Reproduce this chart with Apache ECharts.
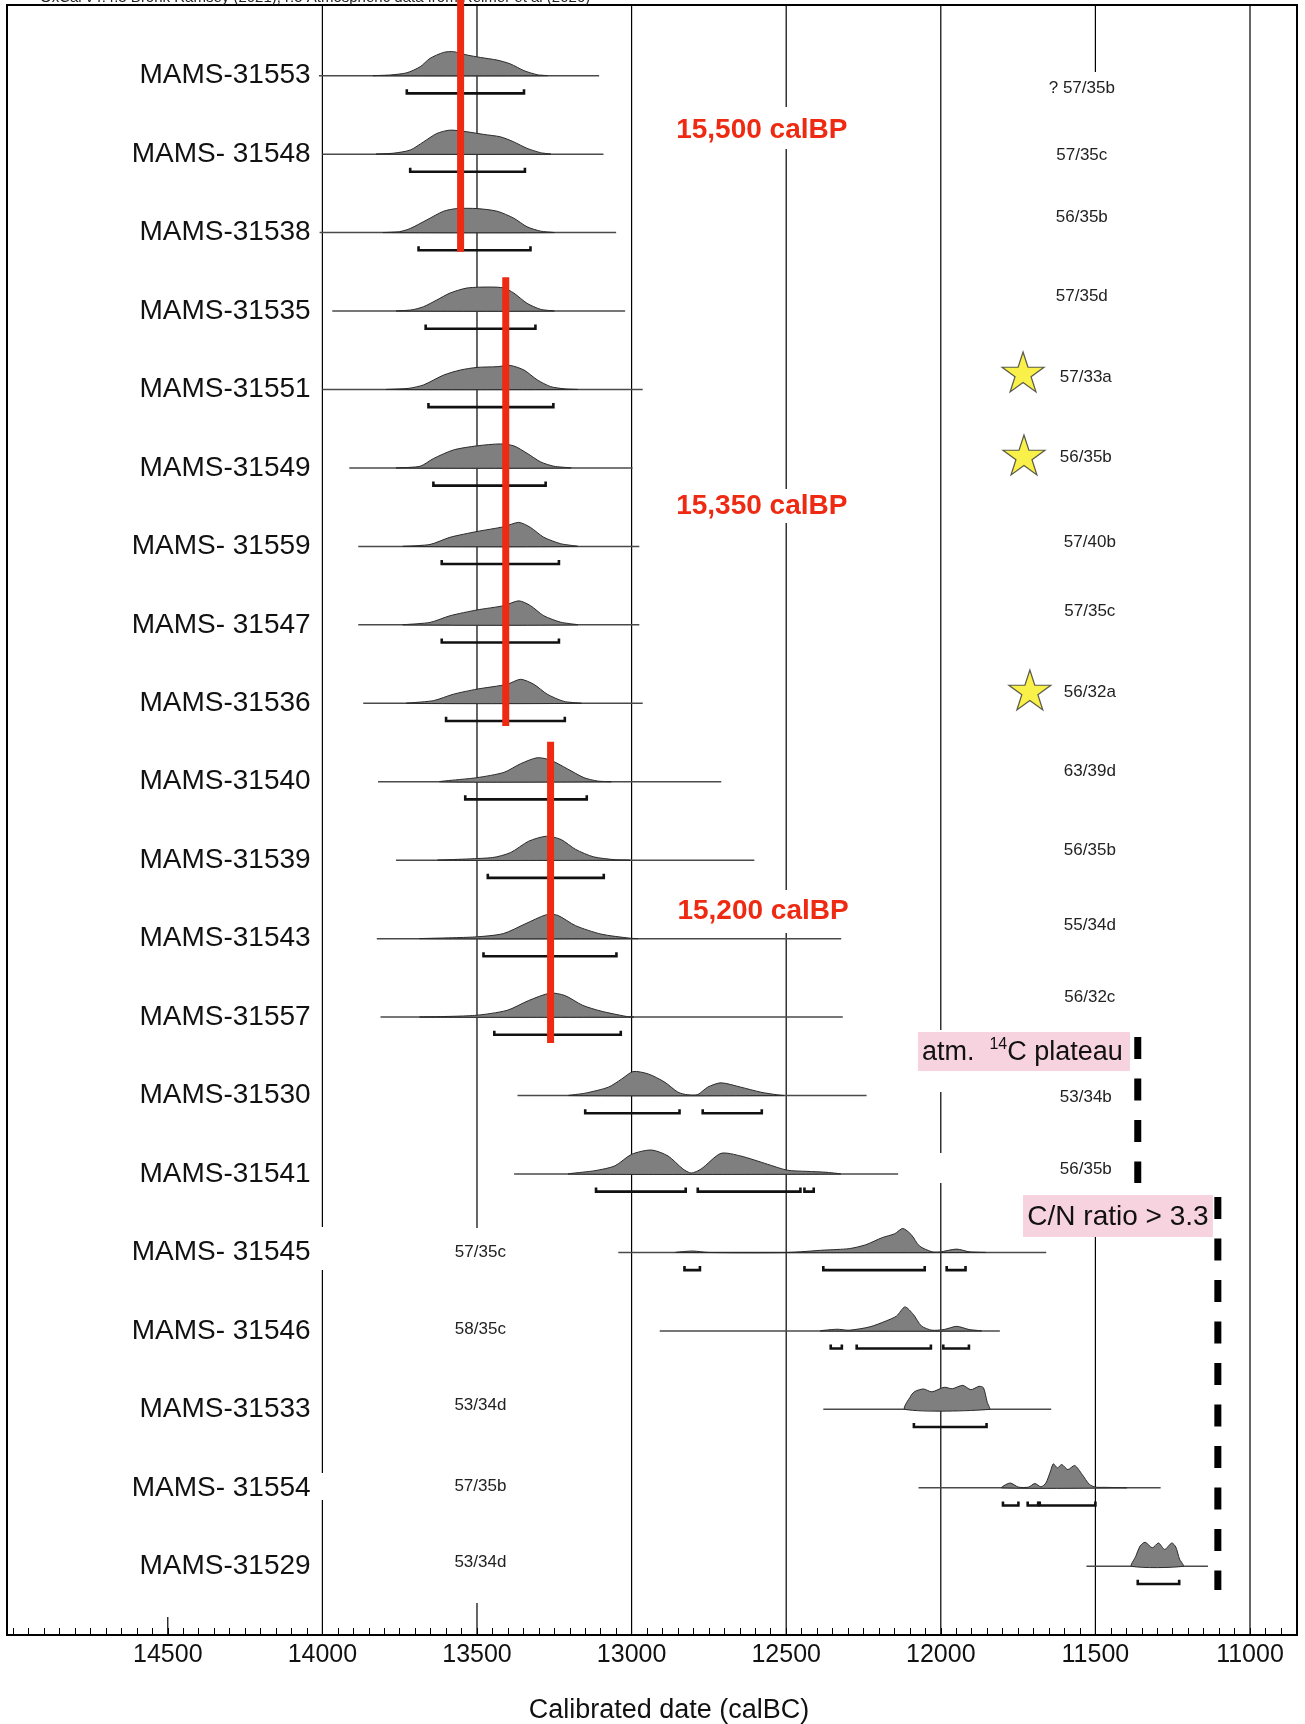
<!DOCTYPE html>
<html><head><meta charset="utf-8">
<script src="https://cdn.jsdelivr.net/npm/echarts@6/dist/echarts.min.js"></script>
<style>html,body{margin:0;padding:0;background:#fff}#c{width:1305px;height:1724px}</style>
</head><body><div id="c"></div>
<script>
// ---------- DATA ----------
const samples = ['MAMS-31553','MAMS- 31548','MAMS-31538','MAMS-31535','MAMS-31551','MAMS-31549','MAMS- 31559','MAMS- 31547','MAMS-31536','MAMS-31540','MAMS-31539','MAMS-31543','MAMS-31557','MAMS-31530','MAMS-31541','MAMS- 31545','MAMS- 31546','MAMS-31533','MAMS- 31554','MAMS-31529'];
const tags = ['? 57/35b','57/35c','56/35b','57/35d','57/33a','56/35b','57/40b','57/35c','56/32a','63/39d','56/35b','55/34d','56/32c','53/34b','56/35b','57/35c','58/35c','53/34d','57/35b','53/34d'];
const tickLabels = [14500,14000,13500,13000,12500,12000,11500,11000];
// whisker (full calibration range) per sample, calBC
const whiskers = [[14011,13105],[14000,13091],[14009,13050],[13968,13021],[14000,12964],[13913,12997],[13884,12975],[13884,12975],[13868,12964],[13820,12710],[13762,12603],[13824,12322],[13812,12317],[13369,12240],[13380,12138],[13043,11659],[12909,11809],[12380,11643],[12072,11289],[11529,11136]];
// probability densities: [calBC, relative density]
const densities = [
 [[13835,0],[13780,.03],[13727,.12],[13684,.37],[13652,.72],[13608,.97],[13576,1],[13532,.86],[13489,.76],[13435,.65],[13392,.49],[13348,.21],[13305,.04],[13273,0]],
 [[13825,0],[13770,.04],[13716,.17],[13673,.51],[13630,.86],[13587,1],[13532,.93],[13478,.82],[13424,.72],[13381,.51],[13338,.24],[13294,.06],[13262,0]],
 [[13803,0],[13750,.04],[13716,.17],[13662,.53],[13608,.89],[13565,1],[13500,1],[13435,.89],[13381,.6],[13338,.24],[13294,.06],[13251,0]],
 [[13760,0],[13710,.05],[13673,.18],[13630,.46],[13587,.75],[13532,.96],[13457,1],[13413,.96],[13381,.75],[13338,.32],[13294,.07],[13251,0]],
 [[13792,0],[13720,.05],[13673,.19],[13608,.6],[13554,.81],[13500,.92],[13435,.95],[13392,1],[13348,.81],[13305,.4],[13262,.12],[13219,.03],[13175,0]],
 [[13760,0],[13684,.07],[13641,.39],[13576,.75],[13500,.92],[13424,1],[13381,.92],[13338,.61],[13294,.25],[13251,.07],[13197,0]],
 [[13738,0],[13652,.08],[13587,.38],[13500,.62],[13413,.82],[13365,1],[13327,.79],[13284,.38],[13229,.11],[13175,0]],
 [[13738,0],[13652,.1],[13587,.38],[13500,.62],[13413,.8],[13365,1],[13327,.8],[13284,.38],[13229,.11],[13175,0]],
 [[13727,0],[13641,.11],[13576,.38],[13500,.59],[13403,.79],[13359,1],[13316,.79],[13273,.38],[13219,.08],[13164,0]],
 [[13619,0],[13500,.17],[13413,.39],[13359,.75],[13305,1],[13262,.9],[13208,.54],[13154,.17],[13110,.03],[13067,0]],
 [[13625,0],[13450,.11],[13391,.32],[13333,.79],[13275,1],[13228,.86],[13181,.45],[13123,.14],[13053,.02],[13006,0]],
 [[13683,0],[13508,.07],[13415,.21],[13345,.61],[13275,1],[13239,.97],[13181,.54],[13099,.19],[13006,.02],[12980,0]],
 [[13683,0],[13508,.07],[13403,.28],[13333,.69],[13263,1],[13216,.9],[13158,.49],[13099,.25],[13018,.03],[12994,0]],
 [[13203,0],[13150,.1],[13075,.35],[13032,.69],[12995,1],[12946,.9],[12893,.56],[12850,.14],[12818,.03],[12786,.04],[12754,.35],[12711,.53],[12647,.35],[12582,.14],[12529,.03],[12508,0]],
 [[13203,0],[13118,.14],[13054,.34],[13000,.82],[12936,1],[12882,.75],[12834,.21],[12807,.04],[12775,.21],[12711,.86],[12647,.75],[12561,.41],[12497,.16],[12433,.11],[12368,.07],[12325,0]],
 [[12856,0],[12803,.06],[12750,0],[12496,0],[12376,.1],[12296,.16],[12243,.32],[12189,.62],[12149,.78],[12123,1],[12096,.75],[12069,.27],[12029,.03],[12003,.02],[11949,.14],[11909,.03],[11856,0]],
 [[12389,0],[12336,.07],[12296,.03],[12229,.17],[12176,.42],[12143,.62],[12116,1],[12089,.69],[12063,.21],[12029,.03],[11989,.06],[11949,.19],[11909,.06],[11869,0]],
 [[12116,0],[12095,.6],[12083,.75],[12056,.85],[12029,.73],[11989,.92],[11963,.86],[11929,1],[11903,.82],[11876,.96],[11862,.9],[11850,.3],[11843,0]],
 [[11803,0],[11776,.2],[11749,.03],[11716,.03],[11696,.18],[11676,.04],[11660,.2],[11645,.7],[11636,1],[11623,.83],[11609,.97],[11589,.76],[11567,.93],[11543,.56],[11520,.15],[11500,.03],[11470,.02],[11400,0]],
 [[11383,0],[11370,.4],[11355,.85],[11339,1],[11316,.77],[11296,.97],[11276,.7],[11253,.97],[11240,.8],[11228,.3],[11216,0]]
];
// 95.4% ranges per sample
const ranges = [
 [[13727,13348]],[[13716,13345]],[[13689,13327]],[[13666,13311]],[[13657,13253]],
 [[13641,13278]],[[13614,13235]],[[13614,13235]],[[13600,13216]],[[13538,13145]],
 [[13465,13090]],[[13479,13049]],[[13444,13035]],
 [[13150,12845],[12770,12579]],
 [[13115,12825],[12786,12454],[12441,12411]],
 [[12829,12779],[12380,12052],[11981,11920]],
 [[12356,12320],[12272,12032],[11992,11909]],
 [[12087,11852]],
 [[11799,11749],[11719,11685],[11680,11500]],
 [[11363,11229]]
];
const calBPText = ['15,500 calBP','15,350 calBP','15,200 calBP'];
const calBPYear = [13553,13407,13262];     // red bars (calBC)
const starSamples = [4,5,8];
const plateauYear = 11363;
const cnYear = 11104;

// ---------- LAYOUT ----------
const ROW0 = 75.7, ROWH = 78.45;
const R = px => (px - ROW0) / ROWH;
const PEAK = 0.306;
const LABEL_X = 14038;
const redBarSpan = [[-1, 251.7],[277.3, 726],[741.7, 1043]];
const calBPPos = [[12579,130],[12579,506],[12575,911]];
const tagYear = [11544,11544,11544,11544,11531,11531,11518,11518,11518,11518,11518,11518,11518,11531,11531,13489,13489,13489,13489,13489];
const tagDy = [13,1,-15,-15,-12,-11,-4,-14,-11,-10,-10,-13,-20,2,-5,0,-2,-4,-2,-4];
const starPos = [[11734,372],[11731,455],[11712,690]];
const gridSegs = [
 [14000,5,1227],[14000,1270,1473],[14000,1500,1635],
 [13500,5,1228],[13500,1603,1635],
 [13000,5,1635],
 [12500,5,107],[12500,149,489],[12500,523,890],[12500,933,1635],
 [12000,5,1030],[12000,1092,1153],[12000,1183,1635],
 [11500,5,72],[11500,1237,1635],
 [11000,5,1635],
 [14500,1617,1635]
];
const minorTicks = [];
for (let v = 10850; v <= 15000; v += 50) minorTicks.push(v);
const FONT = 'Liberation Sans, Arial, Helvetica, sans-serif';

const chart = echarts.init(document.getElementById('c'), null, {renderer:'canvas'});

function cs(name, data, renderItem, z) {
  return {type:'custom', name, coordinateSystem:'cartesian2d', data, renderItem, z, silent:true, clip:false, animation:false};
}

const option = {
  animation:false,
  backgroundColor:'#fff',
  grid:{left:7, right:8, top:5, bottom:89, show:true, borderColor:'#000', borderWidth:2, containLabel:false, outerBoundsMode:'none'},
  xAxis:{
    type:'value', inverse:true, min:10848, max:15020,
    axisLine:{show:true, onZero:false, lineStyle:{color:'#000', width:2}},
    axisTick:{show:true, inside:true, length:7, customValues:minorTicks, lineStyle:{color:'#000', width:1}},
    axisLabel:{customValues:tickLabels, fontSize:25, color:'#111', fontFamily:FONT, margin:8, formatter: v => String(v)},
    splitLine:{show:false},
    name:'Calibrated date (calBC)', nameLocation:'middle', nameGap:62,
    nameTextStyle:{fontSize:27, color:'#111', fontFamily:FONT, padding:[0,0,0,34]}
  },
  yAxis:{type:'value', inverse:true, min:-0.901, max:19.876, show:false},
  graphic:[{type:'text', left:40, top:-10, silent:true,
    style:{text:'OxCal v4.4.3 Bronk Ramsey (2021); r:5 Atmospheric data from Reimer et al (2020)', font:'15px Liberation Sans', fill:'#222'}}],
  series:[
    cs('grid', gridSegs.map(s=>[s[0], R(s[1])]), (p, api) => {
      const s = gridSegs[p.dataIndex];
      const a = api.coord([s[0], R(s[1])]), b = api.coord([s[0], R(s[2])]);
      return {type:'line', shape:{x1:a[0], y1:a[1], x2:b[0], y2:b[1]}, style:{stroke:'#000', lineWidth:1.2}};
    }, 1),
    cs('whisker', whiskers.map((w,i)=>[w[0], i]), (p, api) => {
      const w = whiskers[p.dataIndex], i = p.dataIndex;
      const a = api.coord([w[0], i]), b = api.coord([w[1], i]);
      return {type:'line', shape:{x1:a[0], y1:a[1], x2:b[0], y2:b[1]}, style:{stroke:'#4a4a4a', lineWidth:1.5}};
    }, 2),
    cs('density', densities.map((d,i)=>[d[0][0], i]), (p, api) => {
      const i = p.dataIndex;
      const pts = densities[i].map(([yr, v]) => api.coord([yr, i - v * PEAK]));
      return {type:'polygon', shape:{points:pts, smooth:0.25}, style:{fill:'#7f7f7f', stroke:'#2a2a2a', lineWidth:1}};
    }, 3),
    cs('range', ranges.map((r,i)=>[r[0][0], i]), (p, api) => {
      const i = p.dataIndex;
      const yb = i + 0.225, yt = i + 0.225 - 0.052;
      return {type:'group', children: ranges[i].map(([a, b]) => ({
        type:'polyline',
        shape:{points:[api.coord([a, yt]), api.coord([a, yb]), api.coord([b, yb]), api.coord([b, yt])]},
        style:{stroke:'#111', lineWidth:2.6, fill:null}
      }))};
    }, 3),
    cs('label', samples.map((s,i)=>[LABEL_X, i]), (p, api) => {
      const c = api.coord([LABEL_X, p.dataIndex]);
      return {type:'text', x:c[0], y:c[1], style:{text:samples[p.dataIndex], fill:'#111', fontSize:28, fontFamily:FONT, align:'right', verticalAlign:'middle'}};
    }, 6),
    cs('tags', tags.map((t,i)=>[tagYear[i], i]), (p, api) => {
      const i = p.dataIndex;
      const c = api.coord([tagYear[i], i + tagDy[i] / ROWH]);
      return {type:'text', x:c[0], y:c[1], style:{text:tags[i], fill:'#222', fontSize:17, fontFamily:FONT, align:'center', verticalAlign:'middle'}};
    }, 6),
    cs('redbars', calBPYear.map((y,k)=>[y, R(redBarSpan[k][0])]), (p, api) => {
      const k = p.dataIndex;
      const a = api.coord([calBPYear[k], R(redBarSpan[k][0])]), b = api.coord([calBPYear[k], R(redBarSpan[k][1])]);
      return {type:'line', shape:{x1:a[0], y1:a[1], x2:b[0], y2:b[1]}, style:{stroke:'#ee2a12', lineWidth:7, lineCap:'butt'}};
    }, 5),
    cs('calbp', calBPText.map((t,k)=>[calBPPos[k][0], R(calBPPos[k][1])]), (p, api) => {
      const k = p.dataIndex;
      const c = api.coord([calBPPos[k][0], R(calBPPos[k][1])]);
      return {type:'text', x:c[0], y:c[1], style:{text:calBPText[k], fill:'#ee2a12', fontSize:28, fontWeight:'bold', fontFamily:FONT, align:'center', verticalAlign:'middle'}};
    }, 6),
    cs('dashes', [[plateauYear, R(1037)], [cnYear, R(1197)]], (p, api) => {
      const spans = [[plateauYear, 1037, 1183], [cnYear, 1197, 1590]];
      const s = spans[p.dataIndex];
      const a = api.coord([s[0], R(s[1])]), b = api.coord([s[0], R(s[2])]);
      return {type:'line', shape:{x1:a[0], y1:a[1], x2:b[0], y2:b[1]}, style:{stroke:'#000', lineWidth:7, lineDash:[22,19.5], lineCap:'butt'}};
    }, 4),
    cs('boxes', [[12074, R(1032)], [11734, R(1195)]], (p, api) => {
      if (p.dataIndex === 0) {
        const a = api.coord([12074, R(1032)]), b = api.coord([11388, R(1071)]);
        return {type:'group', children:[
          {type:'rect', shape:{x:a[0], y:a[1], width:b[0]-a[0], height:b[1]-a[1]}, style:{fill:'#f7d3df'}},
          {type:'text', x:a[0]+4, y:(a[1]+b[1])/2 + 1, style:{
            text:'{a|atm.  }{s|14}{a|C plateau}', align:'left', verticalAlign:'middle',
            rich:{a:{fontSize:27, fontFamily:FONT, fill:'#111', lineHeight:32}, s:{fontSize:16, fontFamily:FONT, fill:'#111', lineHeight:22, verticalAlign:'top'}}
          }}
        ]};
      }
      const a = api.coord([11734, R(1195)]), b = api.coord([11120, R(1237)]);
      return {type:'group', children:[
        {type:'rect', shape:{x:a[0], y:a[1], width:b[0]-a[0], height:b[1]-a[1]}, style:{fill:'#f7d3df'}},
        {type:'text', x:(a[0]+b[0])/2, y:(a[1]+b[1])/2 + 1, style:{text:'C/N ratio > 3.3', fontSize:28, fontFamily:FONT, fill:'#111', align:'center', verticalAlign:'middle'}}
      ]};
    }, 5),
    {type:'scatter', name:'stars', z:6, silent:true, animation:false,
     symbol:'path://M50,0 L61.2,34.5 L97.6,34.5 L68.2,55.9 L79.4,90.5 L50,69.1 L20.6,90.5 L31.8,55.9 L2.4,34.5 L38.8,34.5 Z',
     symbolSize:[42,40], symbolKeepAspect:false,
     itemStyle:{color:'#f7ec1c', borderColor:'#333', borderWidth:1.2},
     data: starSamples.map((s,k)=>[starPos[k][0], R(starPos[k][1])])}
  ]
};
chart.setOption(option);
</script>
</body></html>
